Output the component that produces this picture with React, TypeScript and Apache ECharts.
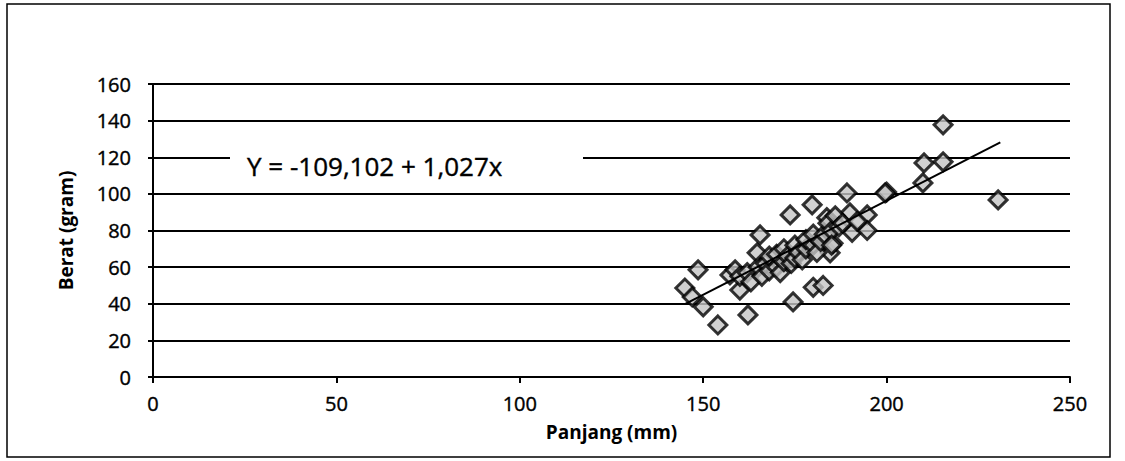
import React, { useEffect, useRef } from "react";
import * as echarts from "echarts";

const panjang = [145, 147, 148.6, 150, 154, 157.3, 158.7, 160, 162.2, 164.7, 165.5, 174.5, 173.7, 179.7, 180, 182.7, 183.7, 184.6, 185.4, 189.2, 190, 190.6, 194.7, 194.7, 200, 199.6, 209.9, 210.2, 215.4, 215.4, 230.4,
  160, 162, 163, 165, 166, 167, 168, 168, 170, 170, 171, 172, 172, 173, 174, 175, 175, 176, 177, 178, 178, 180, 180, 181, 182, 183, 184, 185, 185, 186, 187, 188, 192];
const berat = [48.6, 43.7, 58.5, 38.3, 28.4, 55.7, 58.5, 47.5, 33.9, 67.8, 77.6, 41, 88.5, 94, 49, 50, 87, 67.8, 73, 100.5, 89.6, 79, 88.5, 80, 101, 100.5, 106, 116.9, 137.7, 117.5, 96.7,
  55, 57, 52, 60, 55, 62, 58, 66, 60, 67, 57, 63, 70, 66, 62, 65, 72, 68, 64, 70, 75, 72, 78, 68, 74, 78, 84, 80, 72, 88, 82, 84, 85];
const intercept = -109.102;
const slope = 1.027;
const lineRange = [145, 231];
const xTicks = [0, 50, 100, 150, 200, 250];
const yTicks = [0, 20, 40, 60, 80, 100, 120, 140, 160];
const equationText = "Y = -109,102 + 1,027x";

export default function App() {
  const ref = useRef<HTMLDivElement>(null);
  useEffect(() => {
    if (!ref.current) return;
    const chart = echarts.init(ref.current, null, { renderer: "svg" });
    const font = "'Open Sans', sans-serif";
    const points = panjang.map((x, i) => [x, berat[i]]);
    const linePts = lineRange.map((x) => [x, intercept + slope * x]);
    chart.setOption({
      animation: false,
      backgroundColor: "#fff",
      grid: { left: 153, top: 84, width: 917, height: 293, containLabel: false },
      xAxis: {
        type: "value",
        min: xTicks[0],
        max: xTicks[xTicks.length - 1],
        interval: 50,
        name: "Panjang (mm)",
        nameLocation: "middle",
        nameGap: 45,
        nameTextStyle: { fontFamily: font, fontSize: 19, fontWeight: "bold", color: "#000" },
        axisLine: { show: true, lineStyle: { color: "#000", width: 2 } },
        axisTick: { show: true, length: 6, lineStyle: { color: "#000", width: 2 } },
        axisLabel: { fontFamily: font, fontSize: 20, color: "#000", margin: 16, textBorderColor: "#000", textBorderWidth: 0.4 },
        splitLine: { show: false },
      },
      yAxis: {
        type: "value",
        min: yTicks[0],
        max: yTicks[yTicks.length - 1],
        interval: 20,
        name: "Berat (gram)",
        nameLocation: "middle",
        nameGap: 78,
        nameTextStyle: { fontFamily: font, fontSize: 19, fontWeight: "bold", color: "#000" },
        axisLine: { show: true, lineStyle: { color: "#000", width: 2 } },
        axisTick: { show: true, length: 5, lineStyle: { color: "#000", width: 2 } },
        axisLabel: { fontFamily: font, fontSize: 20, color: "#000", margin: 22, textBorderColor: "#000", textBorderWidth: 0.4 },
        splitLine: { show: true, lineStyle: { color: "#000", width: 2 } },
      },
      series: [
        {
          type: "scatter",
          data: points,
          symbol: "diamond",
          symbolSize: 18,
          itemStyle: { color: "#c4c4c4", borderColor: "#000", borderWidth: 3 },
          z: 3,
        },
        {
          type: "line",
          data: linePts,
          symbol: "none",
          lineStyle: { color: "#000", width: 2 },
          z: 4,
        },
      ],
      graphic: [
        {
          type: "rect",
          shape: { x: 7, y: 4, width: 1103, height: 453 },
          style: { fill: "none", stroke: "#000", lineWidth: 1.5 },
          z: 10,
        },
        {
          type: "rect",
          shape: { x: 230, y: 148, width: 353, height: 24 },
          style: { fill: "#fff" },
          z: 10,
        },
        {
          type: "text",
          x: 247,
          y: 166,
          style: { text: equationText, fontFamily: font, fontSize: 26, fill: "#000", verticalAlign: "middle", stroke: "#000", lineWidth: 0.4 },
          z: 11,
        },
      ],
    });
    return () => chart.dispose();
  }, []);
  return <div ref={ref} style={{ position: "absolute", left: 0, top: 0, width: 1125, height: 461 }} />;
}
